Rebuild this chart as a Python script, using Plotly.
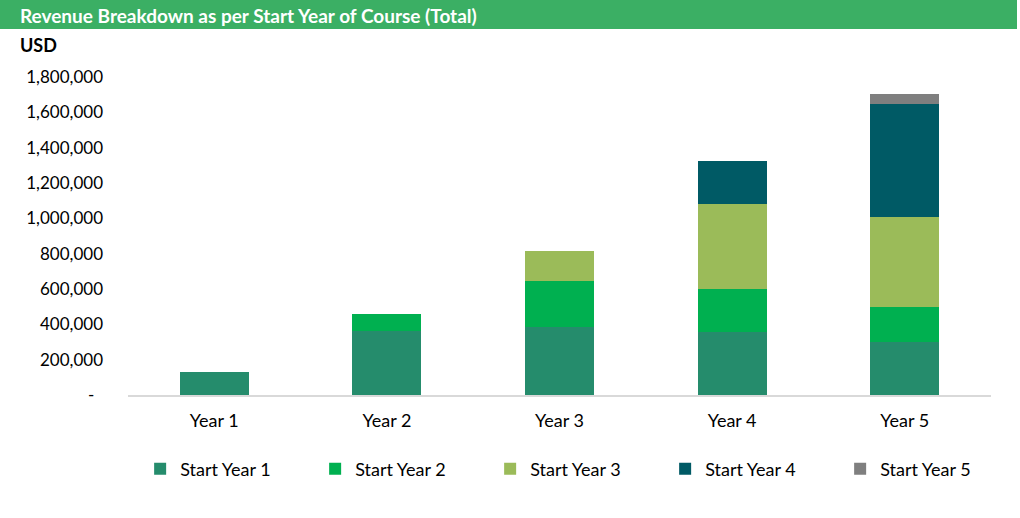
import plotly.graph_objects as go

# Revenue by calendar year, split by the start year of the course cohort
years = ["Year 1", "Year 2", "Year 3", "Year 4", "Year 5"]
start_year_1 = [132000, 364000, 384000, 357000, 300000]
start_year_2 = [0, 95000, 264000, 243000, 200000]
start_year_3 = [0, 0, 168000, 482000, 510000]
start_year_4 = [0, 0, 0, 240000, 639000]
start_year_5 = [0, 0, 0, 0, 56000]

series_names = ["Start Year 1", "Start Year 2", "Start Year 3", "Start Year 4", "Start Year 5"]
series_values = [start_year_1, start_year_2, start_year_3, start_year_4, start_year_5]
colors = ["#258C6C", "#00B050", "#9BBB59", "#005A65", "#7F7F7F"]

y_ticks = [0, 200000, 400000, 600000, 800000, 1000000, 1200000, 1400000, 1600000, 1800000]
y_tick_labels = ["-\u00a0\u00a0"] + [f"{v:,}" for v in y_ticks[1:]]

FONT = "Lato, 'Open Sans', sans-serif"

fig = go.Figure()
for name, vals, col in zip(series_names, series_values, colors):
    fig.add_trace(go.Bar(x=years, y=vals, name=name, marker_color=col,
                         marker_line_width=0))

fig.update_layout(
    width=1020, height=518,
    barmode="stack", bargap=0.6,
    plot_bgcolor="white", paper_bgcolor="white",
    margin=dict(l=128, r=29, t=77, b=123, autoexpand=False),
    font=dict(family=FONT, size=18, color="#000000"),
    # x just below 0 lets the horizontal legend use the left margin width too
    legend=dict(orientation="h", x=-0.001, xanchor="left", y=-0.233, yanchor="middle",
                indentation=13, entrywidth=117, font=dict(size=18), traceorder="normal"),
    showlegend=True,
)

fig.update_xaxes(showgrid=False, showline=True, linecolor="#D9D9D9", linewidth=1.5,
                 ticks="", ticklabelstandoff=9, tickfont=dict(size=18))
fig.update_yaxes(range=[0, 1800000], tickvals=y_ticks, ticktext=y_tick_labels,
                 showgrid=False, zeroline=False, showline=False, ticks="",
                 ticklabelstandoff=24, tickfont=dict(size=17))

# green title banner across the top
fig.add_shape(type="rect", xref="paper", yref="paper",
              x0=-128 / 863, x1=(1017 - 128) / 863, y0=(395 - 29) / 318, y1=(395 - 0) / 318,
              fillcolor="#3BAF64", line_width=0, layer="below")
fig.add_annotation(text="<b>Revenue Breakdown as per Start Year of Course (Total)</b>",
                   xref="paper", yref="paper", x=-110 / 863, y=(395 - 15) / 318,
                   xanchor="left", yanchor="middle", showarrow=False,
                   font=dict(family=FONT, size=19, color="white"))
fig.add_annotation(text="<b>USD</b>", xref="paper", yref="paper",
                   x=-110 / 863, y=(395 - 45) / 318, xanchor="left", yanchor="middle",
                   showarrow=False, font=dict(family=FONT, size=18, color="black"))

fig.write_html("out.html", config={"displayModeBar": False},
               post_script="document.body.style.margin='0';")
